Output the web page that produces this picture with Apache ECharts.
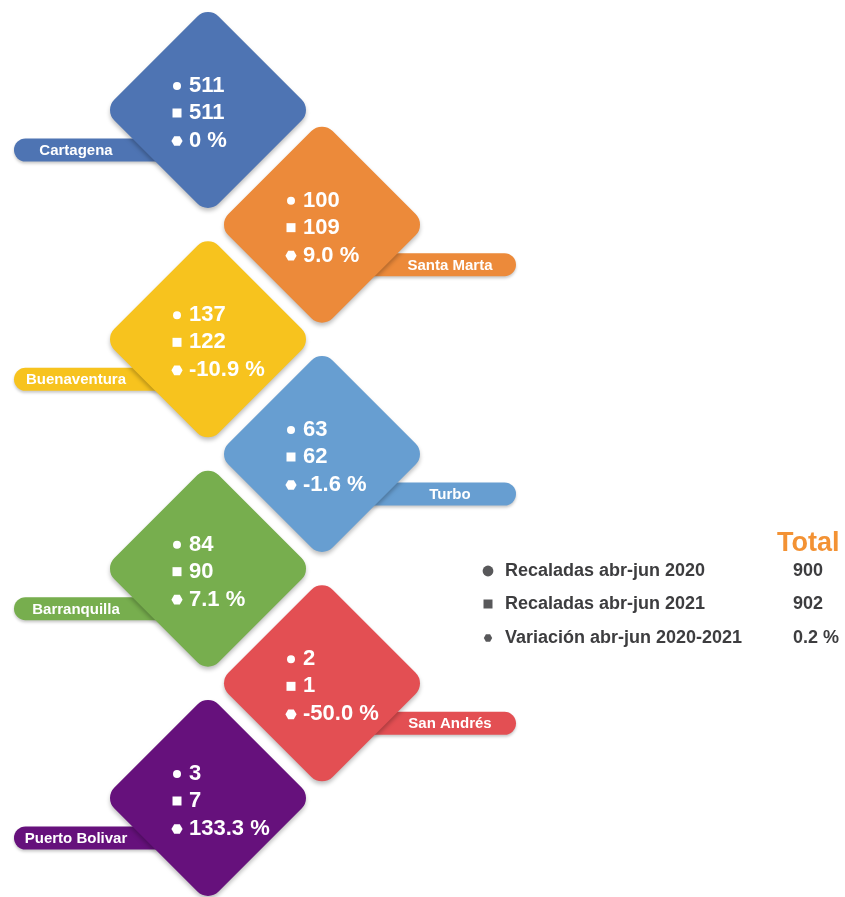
<!DOCTYPE html>
<html>
<head>
<meta charset="utf-8">
<script src="https://cdn.jsdelivr.net/npm/echarts@6/dist/echarts.min.js"></script>
<style>
html,body{margin:0;padding:0;background:#fff;}
#chart{width:845px;height:897px;}
</style>
</head>
<body>
<div id="chart"></div>
<script>
// ---- data ----
const ports = ['Cartagena', 'Santa Marta', 'Buenaventura', 'Turbo', 'Barranquilla', 'San Andrés', 'Puerto Bolivar'];
const recaladas2020 = [511, 100, 137, 63, 84, 2, 3];
const recaladas2021 = [511, 109, 122, 62, 90, 1, 7];
const variacion = [0, 9.0, -10.9, -1.6, 7.1, -50.0, 133.3];
const portColors = ['#4E74B3', '#EC8A3A', '#F7C31E', '#679ED1', '#77AE4E', '#E34F53', '#66117C'];

const legendLabels = ['Recaladas abr-jun 2020', 'Recaladas abr-jun 2021', 'Variación abr-jun 2020-2021'];
const legendTotals = ['900', '902', '0.2 %'];
const totalTitle = 'Total';

function fmtVar(v) { return (v === 0 ? '0' : v.toFixed(1)) + ' %'; }

function hexPoints(cx, cy, r) {
  const pts = [];
  for (let k = 0; k < 6; k++) {
    const a = Math.PI / 3 * k;
    pts.push([cx + r * Math.cos(a), cy + r * Math.sin(a)]);
  }
  return pts;
}

function markerShape(kind, x, y, color, scale) {
  scale = scale || 1;
  if (kind === 0) return { type: 'circle', shape: { cx: x, cy: y, r: 4.0 * scale }, style: { fill: color } };
  if (kind === 1) return { type: 'rect', shape: { x: x - 4.5 * scale, y: y - 4.5 * scale, width: 9 * scale, height: 9 * scale }, style: { fill: color } };
  return { type: 'polygon', shape: { points: hexPoints(x, y, 5.6 * scale) }, style: { fill: color } };
}

const FONT = '"Liberation Sans", Arial, Helvetica, sans-serif';

const data = ports.map((p, i) => [i % 2, i, recaladas2020[i], recaladas2021[i], variacion[i]]);

function renderItem(params, api) {
  const i = params.dataIndex;
  const col = api.value(0);
  const pt = api.coord([col, api.value(1)]);
  const cx = pt[0], cy = pt[1];
  const color = portColors[i];
  const half = 98;              // half diagonal of the diamond
  const r = 15;
  const side = (2 * half + 2 * r * (Math.SQRT2 - 1)) / Math.SQRT2;
  const children = [];

  // label pill (drawn behind the diamond)
  const pillY = cy + 40;
  const pillH = 23;
  const pillLen = 194;
  const left = col === 0;
  children.push({
    type: 'rect',
    shape: { x: left ? cx - pillLen : cx, y: pillY - pillH / 2, width: pillLen, height: pillH, r: pillH / 2 },
    style: { fill: color, shadowBlur: 3, shadowOffsetY: 2, shadowColor: 'rgba(0,0,0,0.22)' }
  });
  children.push({
    type: 'text',
    x: left ? cx - 132 : cx + 128, y: pillY + 1,
    style: { text: ports[i], fill: '#fff', font: 'bold 15px ' + FONT, align: 'center', verticalAlign: 'middle' }
  });

  // diamond
  children.push({
    type: 'rect',
    x: cx, y: cy, rotation: Math.PI / 4,
    shape: { x: -side / 2, y: -side / 2, width: side, height: side, r: r },
    style: { fill: color, shadowBlur: 4, shadowOffsetY: 3, shadowColor: 'rgba(0,0,0,0.25)' }
  });

  // values
  const tx = cx - 19;
  const vals = [String(api.value(2)), String(api.value(3)), fmtVar(api.value(4))];
  const offs = [-25, 2, 30];
  for (let k = 0; k < 3; k++) {
    children.push(markerShape(k, tx - 12, cy + offs[k] + 1, '#fff'));
    children.push({
      type: 'text', x: tx, y: cy + offs[k] + 1,
      style: { text: vals[k], fill: '#fff', font: 'bold 22px ' + FONT, align: 'left', verticalAlign: 'middle' }
    });
  }
  return { type: 'group', children: children };
}

// legend graphics (built from arrays)
const legendGraphics = [];
legendGraphics.push({
  type: 'text', left: 777, top: 530,
  style: { text: totalTitle, fill: '#F39234', font: 'bold 27px ' + FONT }
});
const legendY = [571, 604, 638];
legendLabels.forEach((lab, k) => {
  const m = markerShape(k, 488, legendY[k], '#58585a', k === 0 ? 1.35 : (k === 1 ? 1.0 : 0.75));
  legendGraphics.push(m);
  legendGraphics.push({
    type: 'text', x: 505, y: legendY[k],
    style: { text: lab, fill: '#3d3d3f', font: 'bold 18px ' + FONT, align: 'left', verticalAlign: 'middle' }
  });
  legendGraphics.push({
    type: 'text', x: 793, y: legendY[k],
    style: { text: legendTotals[k], fill: '#3d3d3f', font: 'bold 18px ' + FONT, align: 'left', verticalAlign: 'middle' }
  });
});

const chart = echarts.init(document.getElementById('chart'), null, { renderer: 'canvas' });
chart.setOption({
  backgroundColor: '#ffffff',
  animation: false,
  grid: { left: 208, top: 110, width: 114, height: 688 },
  xAxis: { type: 'value', min: 0, max: 1, show: false },
  yAxis: { type: 'value', min: 0, max: 6, inverse: true, show: false },
  graphic: legendGraphics,
  series: [{
    type: 'custom',
    clip: false,
    renderItem: renderItem,
    encode: { x: 0, y: 1 },
    data: data
  }]
});
</script>
</body>
</html>
